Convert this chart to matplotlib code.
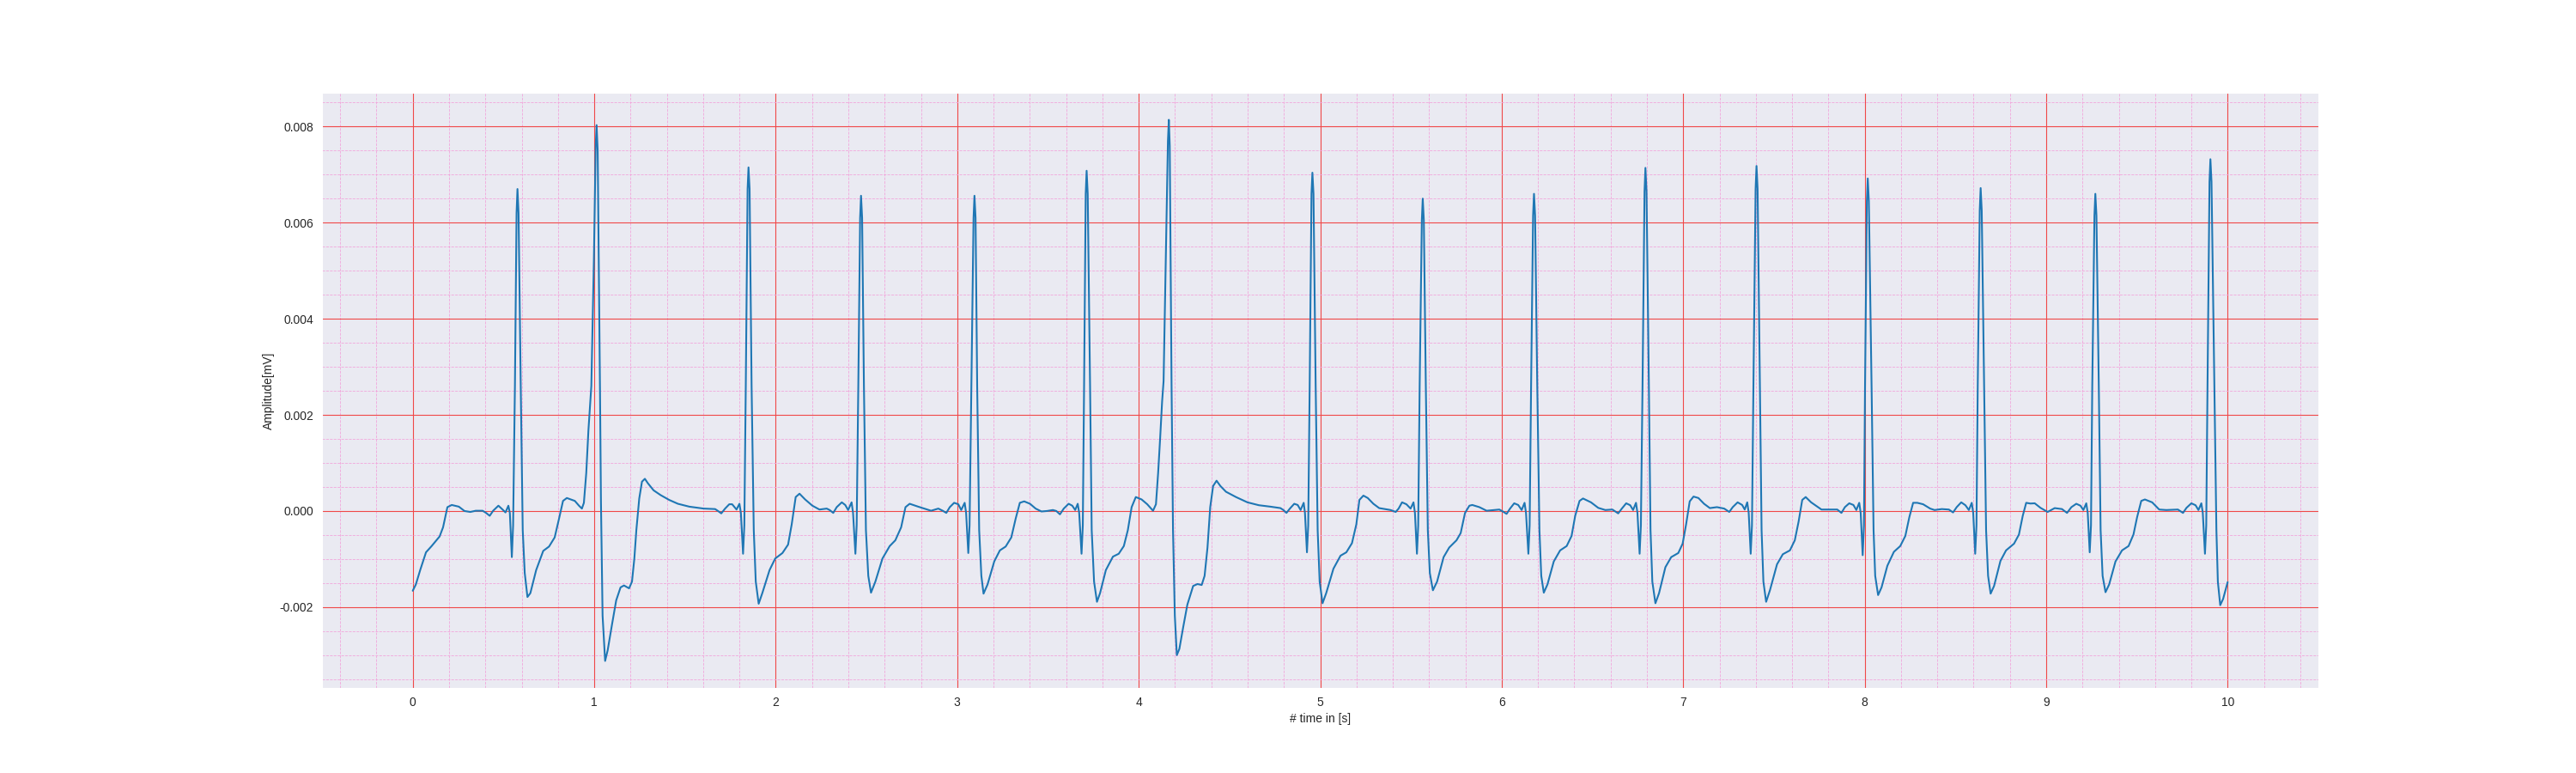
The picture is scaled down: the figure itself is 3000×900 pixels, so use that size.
import matplotlib
matplotlib.use("Agg")
import matplotlib.pyplot as plt
import seaborn as sns
from matplotlib.ticker import MultipleLocator

sns.set_style("darkgrid")
plt.rcParams['font.family'] = ['Liberation Sans', 'DejaVu Sans']

# time [s]
time_s = [
    0.000, 0.017, 0.041, 0.073, 0.104, 0.148, 0.167, 0.191, 0.215, 0.254,
    0.285, 0.317, 0.347, 0.385, 0.404, 0.424, 0.443, 0.472, 0.495, 0.511,
    0.527, 0.535, 0.546, 0.553, 0.563, 0.572, 0.577, 0.583, 0.595, 0.606,
    0.617, 0.632, 0.648, 0.680, 0.719, 0.751, 0.782, 0.806, 0.828, 0.849,
    0.893, 0.916, 0.932, 0.943, 0.956, 0.968, 0.984, 0.998, 1.008, 1.013,
    1.019, 1.026, 1.032, 1.037, 1.046, 1.060, 1.074, 1.098, 1.121, 1.145,
    1.164, 1.192, 1.208, 1.221, 1.232, 1.248, 1.263, 1.279, 1.295, 1.327,
    1.366, 1.413, 1.461, 1.524, 1.603, 1.666, 1.682, 1.700, 1.721, 1.744,
    1.760, 1.784, 1.800, 1.808, 1.820, 1.827, 1.835, 1.845, 1.850, 1.856,
    1.867, 1.879, 1.890, 1.906, 1.926, 1.966, 1.997, 2.037, 2.068, 2.088,
    2.110, 2.131, 2.162, 2.202, 2.241, 2.281, 2.297, 2.317, 2.336, 2.364,
    2.383, 2.399, 2.418, 2.426, 2.439, 2.446, 2.455, 2.465, 2.470, 2.476,
    2.486, 2.497, 2.510, 2.525, 2.549, 2.588, 2.628, 2.659, 2.691, 2.715,
    2.738, 2.785, 2.856, 2.896, 2.920, 2.940, 2.959, 2.983, 3.006, 3.022,
    3.041, 3.049, 3.061, 3.068, 3.078, 3.090, 3.095, 3.101, 3.110, 3.121,
    3.133, 3.145, 3.167, 3.204, 3.235, 3.267, 3.298, 3.322, 3.345, 3.369,
    3.401, 3.432, 3.464, 3.495, 3.527, 3.546, 3.566, 3.587, 3.614, 3.634,
    3.650, 3.664, 3.672, 3.685, 3.692, 3.699, 3.708, 3.713, 3.719, 3.732,
    3.741, 3.754, 3.770, 3.787, 3.819, 3.858, 3.890, 3.918, 3.940, 3.961,
    3.984, 4.016, 4.047, 4.079, 4.095, 4.107, 4.118, 4.129, 4.137, 4.150,
    4.161, 4.166, 4.171, 4.176, 4.181, 4.189, 4.199, 4.210, 4.224, 4.245,
    4.268, 4.300, 4.324, 4.347, 4.363, 4.379, 4.394, 4.410, 4.429, 4.450,
    4.481, 4.536, 4.599, 4.662, 4.726, 4.781, 4.797, 4.814, 4.833, 4.857,
    4.876, 4.892, 4.909, 4.916, 4.927, 4.934, 4.942, 4.952, 4.957, 4.963,
    4.975, 4.986, 4.997, 5.013, 5.033, 5.073, 5.112, 5.144, 5.175, 5.199,
    5.216, 5.238, 5.262, 5.293, 5.325, 5.388, 5.416, 5.432, 5.451, 5.475,
    5.498, 5.514, 5.522, 5.533, 5.540, 5.548, 5.560, 5.565, 5.571, 5.582,
    5.593, 5.604, 5.621, 5.644, 5.680, 5.711, 5.751, 5.774, 5.798, 5.822,
    5.838, 5.877, 5.917, 5.956, 5.987, 6.006, 6.027, 6.046, 6.069, 6.091,
    6.110, 6.126, 6.134, 6.147, 6.154, 6.162, 6.173, 6.178, 6.184, 6.196,
    6.208, 6.218, 6.232, 6.252, 6.287, 6.322, 6.358, 6.385, 6.405, 6.429,
    6.448, 6.492, 6.532, 6.571, 6.610, 6.642, 6.662, 6.686, 6.708, 6.724,
    6.740, 6.748, 6.760, 6.767, 6.776, 6.787, 6.792, 6.798, 6.811, 6.820,
    6.830, 6.847, 6.867, 6.902, 6.934, 6.973, 6.997, 7.016, 7.036, 7.057,
    7.084, 7.115, 7.147, 7.186, 7.226, 7.254, 7.273, 7.300, 7.325, 7.339,
    7.353, 7.361, 7.372, 7.379, 7.387, 7.399, 7.404, 7.410, 7.423, 7.432,
    7.442, 7.457, 7.478, 7.517, 7.549, 7.588, 7.615, 7.636, 7.656, 7.675,
    7.705, 7.762, 7.801, 7.849, 7.872, 7.891, 7.915, 7.938, 7.954, 7.970,
    7.978, 7.989, 7.996, 8.002, 8.012, 8.017, 8.023, 8.038, 8.049, 8.058,
    8.074, 8.093, 8.125, 8.161, 8.196, 8.224, 8.246, 8.267, 8.290, 8.322,
    8.361, 8.385, 8.425, 8.464, 8.487, 8.507, 8.532, 8.555, 8.574, 8.590,
    8.598, 8.609, 8.616, 8.623, 8.634, 8.639, 8.645, 8.658, 8.669, 8.680,
    8.694, 8.713, 8.748, 8.779, 8.823, 8.850, 8.871, 8.890, 8.913, 8.937,
    8.969, 9.008, 9.047, 9.087, 9.115, 9.139, 9.166, 9.189, 9.205, 9.221,
    9.229, 9.240, 9.247, 9.254, 9.266, 9.271, 9.277, 9.290, 9.300, 9.311,
    9.327, 9.347, 9.382, 9.418, 9.454, 9.481, 9.501, 9.524, 9.544, 9.584,
    9.623, 9.662, 9.726, 9.754, 9.773, 9.800, 9.823, 9.839, 9.855, 9.863,
    9.875, 9.882, 9.889, 9.900, 9.905, 9.911, 9.927, 9.938, 9.946, 9.959,
    9.975, 10.000,
]

# amplitude [mV]
amplitude = [
    -0.00166, -0.00153, -0.00123, -0.00086, -0.00073, -0.00053, -0.00034, 0.00008, 0.000125, 0.00009,
    0.00000, -0.00002, 0.000005, 0.000005, -0.00004, -0.00010, 0.000005, 0.00011, 0.00003, -0.00003,
    0.00011, -0.00004, -0.00096, -0.00030, 0.00260, 0.00620, 0.00670, 0.00620, 0.00260, -0.00040,
    -0.00129, -0.00179, -0.00171, -0.00123, -0.00083, -0.00074, -0.00055, -0.00016, 0.00021, 0.00027,
    0.00021, 0.00011, 0.00005, 0.00017, 0.00079, 0.00168, 0.00260, 0.00520, 0.00760, 0.00803,
    0.00750, 0.00480, 0.00240, 0.00020, -0.00218, -0.00312, -0.00290, -0.00236, -0.00186, -0.00159,
    -0.00155, -0.00161, -0.00147, -0.00099, -0.00040, 0.00026, 0.00061, 0.00067, 0.00058, 0.00043,
    0.00033, 0.00023, 0.00015, 0.00009, 0.00005, 0.00004, 0.00000, -0.00005, 0.00005, 0.00014,
    0.00014, 0.00003, 0.00015, -0.00004, -0.00089, -0.00030, 0.00260, 0.00670, 0.00715, 0.00670,
    0.00260, -0.00040, -0.00147, -0.00193, -0.00171, -0.00123, -0.00099, -0.000875, -0.00070, -0.00028,
    0.00029, 0.00036, 0.00024, 0.00011, 0.00003, 0.00005, 0.00002, -0.00004, 0.00008, 0.00018,
    0.000125, 0.00002, 0.00018, -0.00004, -0.00089, -0.00030, 0.00260, 0.00610, 0.00656, 0.00610,
    0.00260, -0.00040, -0.00135, -0.00170, -0.00147, -0.00099, -0.00073, -0.00061, -0.00034, 0.00008,
    0.00015, 0.00009, 0.000005, 0.00005, 0.000005, -0.00004, 0.00008, 0.00017, 0.00014, 0.00002,
    0.00017, -0.00004, -0.000875, -0.00030, 0.00260, 0.00610, 0.00656, 0.00610, 0.00260, -0.00040,
    -0.00135, -0.00172, -0.00153, -0.00105, -0.00082, -0.00074, -0.00055, -0.00016, 0.00017, 0.00020,
    0.00015, 0.00005, -0.00001, 0.00000, 0.00002, 0.00000, -0.00007, 0.00005, 0.00015, 0.00011,
    0.00002, 0.00015, -0.00004, -0.00089, -0.00030, 0.00260, 0.00660, 0.00708, 0.00660, 0.00260,
    -0.00040, -0.00147, -0.00189, -0.00171, -0.00123, -0.00095, -0.00089, -0.00073, -0.00040, 0.00008,
    0.00029, 0.00024, 0.00014, 0.000005, 0.00014, 0.00079, 0.00151, 0.00228, 0.00270, 0.00540,
    0.00770, 0.00814, 0.00760, 0.00500, 0.00260, -0.00040, -0.00218, -0.00300, -0.00287, -0.00242,
    -0.00195, -0.00156, -0.00152, -0.00154, -0.00135, -0.00076, 0.00008, 0.00052, 0.00063, 0.00052,
    0.00040, 0.00029, 0.00018, 0.00012, 0.00009, 0.00006, 0.00002, -0.00004, 0.00005, 0.00015,
    0.000125, 0.00002, 0.00017, -0.00004, -0.00086, -0.00030, 0.00260, 0.00660, 0.00704, 0.00660,
    0.00260, -0.00040, -0.00147, -0.00192, -0.00171, -0.00120, -0.00093, -0.00086, -0.00067, -0.00028,
    0.00023, 0.00032, 0.00027, 0.00015, 0.00006, 0.00002, -0.00002, 0.00005, 0.00018, 0.00014,
    0.00005, 0.00018, -0.00004, -0.00089, -0.00030, 0.00260, 0.00605, 0.00650, 0.00605, 0.00260,
    -0.00040, -0.00129, -0.00165, -0.00147, -0.00096, -0.00076, -0.00061, -0.00046, -0.00004, 0.00011,
    0.000125, 0.00008, 0.000005, 0.00002, 0.00003, -0.00001, -0.00006, 0.00005, 0.00016, 0.000125,
    0.00002, 0.00017, -0.00004, -0.00089, -0.00030, 0.00260, 0.00615, 0.00660, 0.00615, 0.00260,
    -0.00040, -0.00135, -0.00170, -0.00153, -0.00105, -0.00082, -0.00073, -0.00052, -0.00010, 0.00021,
    0.00026, 0.00018, 0.000065, 0.00002, 0.00003, -0.00005, 0.00005, 0.00016, 0.00012, 0.00002,
    0.00017, -0.00004, -0.00089, -0.00030, 0.00260, 0.00665, 0.00714, 0.00665, 0.00260, -0.00040,
    -0.00147, -0.00192, -0.00171, -0.00117, -0.00096, -0.000875, -0.00068, -0.00028, 0.00020, 0.00030,
    0.00027, 0.00015, 0.00006, 0.00008, 0.00005, -0.00002, 0.00008, 0.00018, 0.000125, 0.00003,
    0.00018, -0.00004, -0.00089, -0.00030, 0.00260, 0.00670, 0.00718, 0.00670, 0.00260, -0.00040,
    -0.00147, -0.00189, -0.00165, -0.00111, -0.00090, -0.00082, -0.00061, -0.00022, 0.00023, 0.00029,
    0.00018, 0.00003, 0.00003, 0.00003, -0.00004, 0.00008, 0.00016, 0.000125, 0.00002, 0.00017,
    -0.00004, -0.00092, -0.00030, 0.00260, 0.00645, 0.00692, 0.00645, 0.00260, -0.00040, -0.00135,
    -0.00175, -0.00159, -0.00114, -0.00085, -0.00073, -0.00052, -0.00013, 0.00017, 0.00017, 0.00014,
    0.00005, 0.00002, 0.00004, 0.00003, -0.00003, 0.00008, 0.00018, 0.00012, 0.00002, 0.00017,
    -0.00004, -0.00089, -0.00030, 0.00260, 0.00625, 0.00672, 0.00625, 0.00260, -0.00040, -0.00135,
    -0.00172, -0.00156, -0.00104, -0.00082, -0.00068, -0.00049, -0.00010, 0.00017, 0.000155, 0.00016,
    0.000065, -0.00002, 0.00006, 0.00004, -0.00004, 0.00008, 0.00015, 0.00011, 0.00002, 0.00016,
    -0.00004, -0.00086, -0.00030, 0.00260, 0.00615, 0.00660, 0.00615, 0.00260, -0.00040, -0.00135,
    -0.00169, -0.00153, -0.00105, -0.00082, -0.00073, -0.00049, -0.00013, 0.00021, 0.00024, 0.00018,
    0.00003, 0.00002, 0.00003, -0.00004, 0.000065, 0.00016, 0.00012, 0.00002, 0.00016, -0.00004,
    -0.00089, -0.00030, 0.00260, 0.00685, 0.00732, 0.00685, 0.00260, -0.00040, -0.00147, -0.00196,
    -0.00183, -0.00148,
]

x_ticks = [0, 1, 2, 3, 4, 5, 6, 7, 8, 9, 10]
y_ticks = [-0.002, 0.000, 0.002, 0.004, 0.006, 0.008]

fig, ax = plt.subplots(figsize=(30, 9), dpi=100)
ax.plot(time_s, amplitude, color='#1f77b4', linewidth=1.5)

ax.set_xticks(x_ticks)
ax.set_yticks(y_ticks)
ax.set_yticklabels(["%.3f" % v for v in y_ticks])
ax.xaxis.set_minor_locator(MultipleLocator(0.2))
ax.yaxis.set_minor_locator(MultipleLocator(0.0005))

ax.grid(which='major', linestyle='-', linewidth=0.8, color='#f04848')
ax.grid(which='minor', linestyle='--', linewidth=0.6, color='#f2a6dc')
ax.tick_params(which='both', bottom=False, left=False, labelsize=10, colors='#262626')

ax.set_xlabel('# time in [s]', fontsize=10, color='#262626')
ax.set_ylabel('Amplitude[mV]', fontsize=10, color='#262626')

fig.savefig('out.png', dpi=100)
